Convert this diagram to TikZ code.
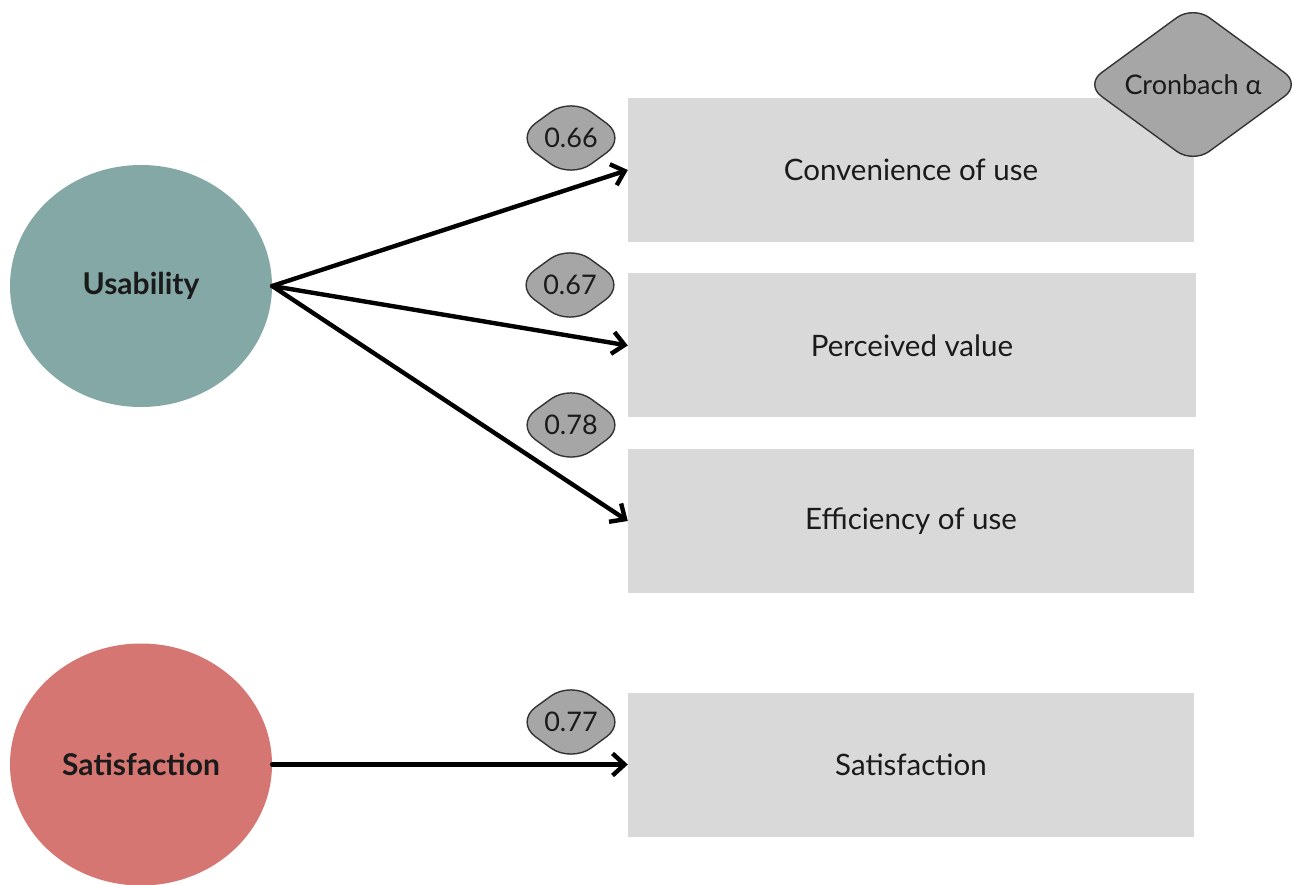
\documentclass[tikz,border=0pt]{standalone}
\usepackage{fontspec}
\setmainfont{Lato}
\usetikzlibrary{shapes.geometric,arrows.meta}

\definecolor{usabfill}{HTML}{84A8A6}
\definecolor{satfill}{HTML}{D57672}
\definecolor{boxfill}{HTML}{D9D9D9}
\definecolor{tagfill}{HTML}{A6A6A6}
\definecolor{tagline}{HTML}{333333}
\definecolor{inktext}{HTML}{1A1A1A}

\tikzset{
  latent/.style={ellipse, minimum width=262, minimum height=242, inner sep=0,
    text=inktext, font=\fontsize{30}{34}\selectfont\bfseries},
  factorbox/.style={rectangle, fill=boxfill, minimum width=566, minimum height=144,
    inner sep=0, text=inktext, font=\fontsize{29.5}{34}\selectfont},
  alphatag/.style={diamond, draw=tagline, line width=1.4pt, fill=tagfill,
    minimum width=112, minimum height=82, rounded corners=25, inner sep=0,
    text=inktext, font=\fontsize{27}{31}\selectfont},
  legendtag/.style={diamond, draw=tagline, line width=1.4pt, fill=tagfill,
    minimum width=216, minimum height=158, rounded corners=20, inner sep=0,
    text=inktext, font=\fontsize{27}{31}\selectfont},
  link/.style={draw=black, line width=4.4pt, line cap=round,
    -{Straight Barb[length=12pt,width=22pt,line width=4.4pt]}}
}

\begin{document}
\begin{tikzpicture}[x=1pt,y=-1pt]
\useasboundingbox (0,0) rectangle (1294,885);

% latent constructs
\node[latent, fill=usabfill] (usab) at (141,286) {Usability};
\node[latent, fill=satfill] (satl) at (141,764.5) {Satisfaction};

% measured dimensions
\node[factorbox] (conv) at (911,170) {Convenience of use};
\node[factorbox, minimum width=568] (perc) at (912,345.5) {Perceived value};
\node[factorbox] (effi) at (911,521) {Efficiency of use};
\node[factorbox] (sats) at (911,764.5) {Satisfaction};

% legend
\node[legendtag] (legend) at (1193,84.5) {Cronbach α};

% paths
\draw[link] (usab.east) -- (conv.west);
\draw[link] (usab.east) -- (perc.west);
\draw[link] (usab.east) -- (effi.west);
\draw[link] (satl.east) -- (sats.west);

% reliability values
\node[alphatag] (a1) at (571,138) {0.66};
\node[alphatag] (a2) at (570,285) {0.67};
\node[alphatag] (a3) at (571,425) {0.78};
\node[alphatag] (a4) at (571,722) {0.77};
\end{tikzpicture}
\end{document}
